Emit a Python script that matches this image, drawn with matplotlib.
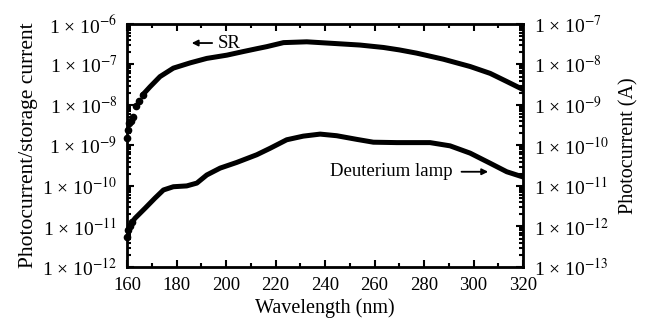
import numpy as np
import matplotlib
matplotlib.use('Agg')
import matplotlib.pyplot as plt
from matplotlib.ticker import LogLocator, FixedLocator, FuncFormatter, NullFormatter

plt.rcParams['font.family'] = 'Liberation Serif'
plt.rcParams['mathtext.fontset'] = 'stix'

# SR curve (photocurrent / storage current)
# sparse dots at the short-wavelength end
sr_dot_wl = [160.0, 160.3, 160.8, 161.5, 162.3, 163.6, 165.0, 166.3]
sr_dot_log = [-8.81, -8.62, -8.45, -8.40, -8.29, -8.02, -7.90, -7.75]
# dense part
sr_wl = [166.3, 169.3, 173.3, 178.7, 185.5, 192.2, 200.3, 207.0, 212.4, 216.4,
         223.2, 232.6, 243.4, 254.1, 263.6, 270.0, 277.0, 287.8, 298.6, 306.7,
         313.4, 320.0]
sr_log = [-7.75, -7.55, -7.30, -7.09, -6.96, -6.85, -6.77, -6.68, -6.61, -6.56,
          -6.46, -6.44, -6.48, -6.52, -6.58, -6.64, -6.72, -6.87, -7.05, -7.22,
          -7.42, -7.62]

# Deuterium lamp curve (drawn against left axis scale)
d2_dot_wl = [160.0, 160.4, 161.2, 162.0]
d2_dot_log = [-11.25, -11.10, -11.00, -10.90]
d2_wl = [162.0, 163.2, 167.3, 171.3, 174.7, 178.7, 184.1, 188.2, 192.2, 197.6,
         204.3, 212.4, 217.8, 224.5, 231.2, 238.0, 244.7, 252.8, 259.5, 269.0,
         282.4, 290.5, 298.6, 306.7, 313.4, 320.0]
d2_log = [-10.90, -10.80, -10.55, -10.30, -10.10, -10.02, -10.00, -9.93, -9.73, -9.56,
          -9.42, -9.23, -9.07, -8.86, -8.77, -8.72, -8.76, -8.85, -8.92, -8.93,
          -8.93, -9.01, -9.19, -9.44, -9.65, -9.78]

left_exps = [-12, -11, -10, -9, -8, -7, -6]
right_exps = [-13, -12, -11, -10, -9, -8, -7]

fig = plt.figure(figsize=(6.45, 3.2), dpi=100)
ax = fig.add_axes([0.197, 0.166, 0.614, 0.759])

ax.plot(sr_wl, 10.0 ** np.array(sr_log), color='black', lw=3.6,
        solid_capstyle='round', solid_joinstyle='round')
ax.plot(sr_dot_wl, 10.0 ** np.array(sr_dot_log), 'o', color='black', ms=4.5,
        clip_on=False)
ax.plot(d2_wl, 10.0 ** np.array(d2_log), color='black', lw=3.6,
        solid_capstyle='round', solid_joinstyle='round')
ax.plot(d2_dot_wl, 10.0 ** np.array(d2_dot_log), 'o', color='black', ms=4.5,
        clip_on=False)

ax.set_yscale('log')
ax.set_xlim(160, 320)
ax.set_ylim(1e-12, 1e-6)

fmt = FuncFormatter(lambda v, p: '1 \u00d7 10$^{%d}$' % int(round(np.log10(v))))
ax.yaxis.set_major_locator(FixedLocator([10.0 ** e for e in left_exps]))
ax.yaxis.set_major_formatter(fmt)
ax.yaxis.set_minor_locator(LogLocator(base=10, subs=np.arange(2, 10), numticks=20))
ax.yaxis.set_minor_formatter(NullFormatter())
ax.set_xticks(range(160, 321, 20))
ax.set_xticks(range(160, 321, 10), minor=True)

ax.tick_params(which='both', direction='in', top=True, width=1.5)
ax.tick_params(which='major', length=5)
ax.tick_params(which='minor', length=3)
ax.tick_params(axis='x', labelsize=13.5, pad=7)
ax.tick_params(axis='y', which='major', pad=7, labelsize=14)
for s in ax.spines.values():
    s.set_linewidth(2)

ax2 = ax.twinx()
ax2.set_yscale('log')
ax2.set_ylim(1e-13, 1e-7)
ax2.yaxis.set_major_locator(FixedLocator([10.0 ** e for e in right_exps]))
ax2.yaxis.set_major_formatter(fmt)
ax2.yaxis.set_minor_locator(LogLocator(base=10, subs=np.arange(2, 10), numticks=20))
ax2.yaxis.set_minor_formatter(NullFormatter())
ax2.tick_params(which='both', direction='in', width=1.5, labelsize=14, pad=8)
ax2.tick_params(which='major', length=5)
ax2.tick_params(which='minor', length=3)

ax.set_xlabel('Wavelength (nm)', fontsize=14.5, labelpad=3)
ax.set_ylabel('Photocurrent/storage current', fontsize=15.5, labelpad=3)
ax2.set_ylabel('Photocurrent (A)', fontsize=14.5, labelpad=7)

ax.annotate('', xy=(185.0, 10 ** -6.47), xytext=(195.5, 10 ** -6.47),
            arrowprops=dict(arrowstyle='-|>', color='black', lw=1.3, mutation_scale=9))
ax.text(196.6, 10 ** -6.47, 'SR', fontsize=13.5, va='center', ha='left')

ax.text(242, 10 ** -9.65, 'Deuterium lamp', fontsize=13.5, va='center', ha='left')
ax.annotate('', xy=(307, 10 ** -9.65), xytext=(294, 10 ** -9.65),
            arrowprops=dict(arrowstyle='-|>', color='black', lw=1.3, mutation_scale=9))

fig.savefig('out.png', dpi=100)
